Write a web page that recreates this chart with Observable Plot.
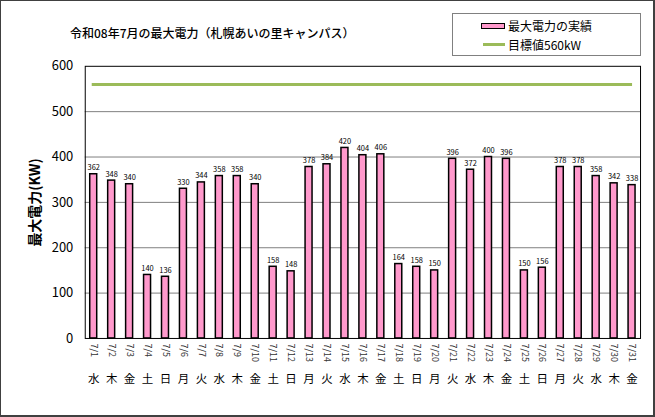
<!DOCTYPE html>
<html>
<head>
<meta charset="utf-8">
<script src="https://cdn.jsdelivr.net/npm/d3@7"></script>
<script src="https://cdn.jsdelivr.net/npm/@observablehq/plot@0.6"></script>
<style>
  html, body { margin: 0; padding: 0; background: #fff; }
  #wrap { position: relative; width: 655px; height: 417px; box-sizing: border-box;
          border-left: 1px solid #404040; border-top: 1px solid #404040;
          border-right: 2px solid #404040; border-bottom: 2px solid #404040;
          font-family: "Noto Sans CJK JP", sans-serif; overflow: hidden; }
  #chart { position: absolute; left: -1px; top: -1px; }
  #title { position: absolute; left: 69px; top: 23px; font-size: 12px; color: #000; white-space: nowrap; font-weight: 500; }
  #legend { position: absolute; left: 451px; top: 12px; width: 187px; height: 41px;
            border: 1px solid #808080; background: #fff; font-size: 12px; }
  .item { position: absolute; left: 28px; display: flex; align-items: center; white-space: nowrap; }
  .sw { display: inline-block; width: 24px; margin-right: 3px; box-sizing: border-box; }
</style>
</head>
<body>
<div id="wrap">
  <div id="chart"></div>
  <div id="title">令和08年7月の最大電力（札幌あいの里キャンパス）</div>
  <div id="legend">
    <div class="item" style="top:3px"><span class="sw" style="height:6px;background:#ff99cc;border:1.5px solid #000"></span>最大電力の実績</div>
    <div class="item" style="top:22px"><span class="sw" style="height:3px;background:#9bbb59;margin-left:2px;width:22px"></span>目標値560kW</div>
  </div>
</div>
<script>
const dates = ["7/1","7/2","7/3","7/4","7/5","7/6","7/7","7/8","7/9","7/10","7/11","7/12","7/13","7/14","7/15","7/16","7/17","7/18","7/19","7/20","7/21","7/22","7/23","7/24","7/25","7/26","7/27","7/28","7/29","7/30","7/31"];
const weekdays = ["水","木","金","土","日","月","火","水","木","金","土","日","月","火","水","木","金","土","日","月","火","水","木","金","土","日","月","火","水","木","金"];
const values = [362,348,340,140,136,330,344,358,358,340,158,148,378,384,420,404,406,164,158,150,396,372,400,396,150,156,378,378,358,342,338];
const target = 560;
const yTicks = [0,100,200,300,400,500,600];
const gridTicks = [100,200,300,400,500];

const data = dates.map((d, i) => ({date: d, value: values[i], wd: weekdays[i]}));

const chart = Plot.plot({
  width: 655,
  height: 417,
  marginLeft: 85,
  marginRight: 13,
  marginTop: 66,
  marginBottom: 78,
  style: {fontFamily: "'Noto Sans CJK JP', sans-serif", background: "transparent"},
  x: {domain: dates, paddingInner: 0.6, paddingOuter: 0.24, align: 0.5},
  y: {domain: [0, 600]},
  marks: [
    Plot.ruleY(gridTicks, {stroke: "#808080", strokeWidth: 1}),
    Plot.barY(data, {x: "date", y: "value", fill: "#ff99cc", stroke: "#000", strokeWidth: 1.5}),
    Plot.ruleY([target], {stroke: "#9bbb59", strokeWidth: 3, insetLeft: 7, insetRight: 8}),
    Plot.text(data, {x: "date", y: "value", text: d => String(d.value), lineAnchor: "bottom", dy: -4, fontSize: 7.5, fill: "#000"}),
    Plot.frame({stroke: "#000", strokeWidth: 1}),
    Plot.axisY({ticks: yTicks, tickSize: 0, tickPadding: 12, fontSize: 13, fill: "#000",
      label: "最大電力(KW)", labelAnchor: "center", labelOffset: 55, labelArrow: "none"}),
    Plot.axisX({tickSize: 0, tickPadding: 5, tickRotate: 90, fontSize: 9, fill: "#333", label: null}),
    Plot.text(data, {x: "date", text: "wd", frameAnchor: "bottom", lineAnchor: "middle", dy: 41, fontSize: 11.5, fill: "#000"})
  ]
});
// make the y-axis label bold and larger
chart.querySelectorAll("text").forEach(t => {
  if (t.textContent.includes("最大電力(KW)")) { t.setAttribute("font-weight", "bold"); t.setAttribute("font-size", "14"); }
});
document.getElementById("chart").appendChild(chart);
</script>
</body>
</html>
